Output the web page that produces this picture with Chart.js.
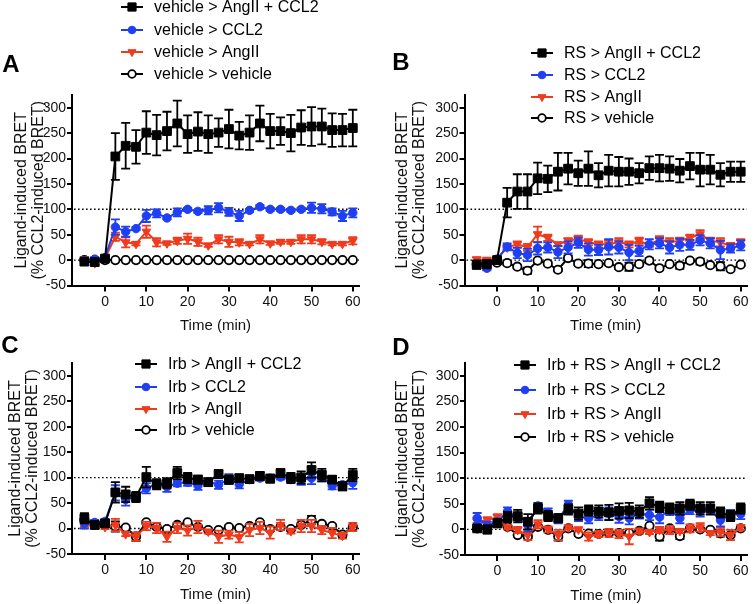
<!DOCTYPE html>
<html>
<head>
<meta charset="utf-8">
<script src="https://cdn.jsdelivr.net/npm/chart.js@4"></script>
<style>
body { margin: 0; background: #fff; }
#wrap { position: relative; width: 754px; height: 604px; }
canvas { position: absolute; left: 0; top: 0; }
</style>
</head>
<body>
<div id="wrap">
<canvas id="cA" width="754" height="604"></canvas>
<canvas id="cB" width="754" height="604"></canvas>
<canvas id="cC" width="754" height="604"></canvas>
<canvas id="cD" width="754" height="604"></canvas>
</div>
<script>
// time points (min)
var times = [-5, -2.5, 0, 2.5, 5, 7.5, 10, 12.5, 15, 17.5, 20, 22.5, 25, 27.5, 30, 32.5, 35, 37.5, 40, 42.5, 45, 47.5, 50, 52.5, 55, 57.5, 60];
var xTicks = [0, 10, 20, 30, 40, 50, 60];
var yTicks = [-50, 0, 50, 100, 150, 200, 250, 300];

// panel A: vehicle pre-treatment
var legendA = ['vehicle > AngII + CCL2', 'vehicle > CCL2', 'vehicle > AngII', 'vehicle > vehicle'];
var aBlack = [-3, -4, 3, 204, 225, 223, 251, 246, 254, 269, 248, 253, 248, 251, 258, 245, 251, 269, 254, 254, 250, 261, 263, 263, 256, 256, 260];
var aBlackErr = [4, 5, 3, 46, 45, 33, 42, 40, 38, 45, 37, 38, 37, 28, 38, 27, 34, 35, 34, 27, 36, 34, 38, 35, 33, 32, 36];
var aBlue = [-1, 2, 5, 65, 56, 62, 87, 92, 83, 94, 100, 96, 98, 103, 95, 87, 98, 105, 100, 100, 98, 100, 103, 101, 95, 87, 93];
var aBlueErr = [3, 4, 3, 15, 10, 3, 12, 8, 3, 8, 3, 3, 8, 9, 8, 10, 3, 3, 3, 3, 3, 3, 10, 9, 7, 10, 9];
var aRed = [2, -6, 4, 46, 35, 32, 56, 35, 33, 38, 42, 36, 29, 41, 36, 35, 32, 41, 33, 36, 36, 41, 41, 36, 32, 32, 38];
var aRedErr = [4, 4, 3, 8, 10, 3, 12, 8, 3, 6, 10, 8, 3, 8, 10, 6, 3, 8, 3, 4, 4, 8, 8, 5, 3, 3, 7];
var aOpen = [0, 0, 0, 0, 0, 0, 0, 0, 0, 0, 0, 0, 0, 0, 0, 0, 0, 0, 0, 0, 0, 0, 0, 0, 0, 0, 0];
var aOpenErr = [0, 0, 0, 0, 0, 0, 0, 0, 0, 0, 0, 0, 0, 0, 0, 0, 0, 0, 0, 0, 0, 0, 0, 0, 0, 0, 0];

// panel B: RS pre-treatment
var legendB = ['RS > AngII + CCL2', 'RS > CCL2', 'RS > AngII', 'RS > vehicle'];
var bBlack = [-9, -8, 0, 113, 135, 135, 161, 160, 174, 180, 171, 180, 167, 176, 174, 174, 171, 181, 181, 180, 176, 185, 178, 178, 168, 174, 174];
var bBlackErr = [8, 8, 3, 29, 34, 34, 31, 26, 37, 31, 25, 34, 24, 31, 29, 26, 20, 23, 26, 24, 23, 26, 33, 29, 23, 20, 20];
var bBlue = [-8, -16, 2, 26, 14, 10, 23, 25, 16, 25, 34, 21, 20, 26, 25, 15, 18, 31, 33, 25, 30, 30, 39, 33, 20, 23, 29];
var bBlueErr = [4, 4, 3, 7, 10, 12, 12, 10, 12, 12, 10, 12, 10, 15, 12, 15, 10, 10, 10, 12, 12, 10, 10, 10, 18, 8, 10];
var bRed = [1, 0, 2, 25, 31, 25, 51, 44, 31, 38, 42, 35, 31, 31, 35, 31, 38, 30, 41, 35, 38, 44, 51, 38, 35, 28, 35];
var bRedErr = [5, 5, 3, 4, 6, 7, 15, 6, 4, 5, 6, 6, 6, 8, 8, 6, 6, 4, 6, 8, 6, 6, 8, 6, 8, 6, 6];
var bOpen = [-8, -5, -5, -6, -13, -21, -1, -7, -19, 4, -7, -7, -8, -6, -14, -13, -8, -1, -16, -8, -11, -1, -3, -10, -12, -18, -9];
var bOpenErr = [3, 3, 3, 3, 3, 6, 3, 3, 3, 5, 3, 7, 3, 3, 3, 8, 3, 5, 3, 3, 6, 3, 6, 3, 8, 3, 3];

// panel C: Irb pre-treatment
var legendC = ['Irb > AngII + CCL2', 'Irb > CCL2', 'Irb > AngII', 'Irb > vehicle'];
var cBlack = [20, 7, 10, 71, 67, 62, 101, 87, 89, 109, 99, 96, 91, 107, 96, 99, 97, 103, 98, 109, 99, 100, 115, 105, 96, 83, 105];
var cBlackErr = [10, 4, 5, 20, 15, 10, 20, 10, 10, 12, 10, 8, 7, 8, 8, 7, 7, 8, 8, 7, 10, 12, 15, 12, 7, 8, 12];
var cBlue = [10, 12, 14, 70, 57, 62, 79, 88, 82, 89, 91, 84, 92, 86, 97, 87, 96, 99, 99, 101, 96, 96, 99, 102, 84, 86, 90];
var cBlueErr = [10, 5, 5, 15, 12, 8, 10, 6, 10, 6, 7, 8, 5, 8, 10, 8, 5, 5, 5, 5, 5, 10, 12, 10, 7, 5, 12];
var cRed = [8, 7, 3, 7, -11, -16, 5, 1, -16, 1, -4, 3, -6, -16, -12, -17, -3, 1, -8, 7, -5, 5, 5, -3, -9, -14, 3];
var cRedErr = [5, 4, 4, 12, 4, 8, 8, 10, 10, 10, 10, 12, 4, 12, 8, 10, 12, 12, 12, 10, 5, 12, 12, 8, 10, 6, 8];
var cOpen = [17, 7, 7, 4, 2, -16, 12, 3, -1, 7, 12, 3, -3, -3, 3, 1, 5, 12, -1, 3, -1, 7, 17, 9, 5, -12, 3];
var cOpenErr = [3, 3, 3, 10, 3, 8, 3, 3, 3, 3, 3, 3, 3, 3, 3, 3, 3, 3, 3, 3, 3, 3, 8, 3, 3, 6, 3];

// panel D: Irb + RS pre-treatment
var legendD = ['Irb + RS > AngII + CCL2', 'Irb + RS > CCL2', 'Irb + RS > AngII', 'Irb + RS > vehicle'];
var dBlack = [2, 0, 12, 24, 26, 15, 41, 26, 22, 39, 31, 37, 35, 33, 36, 37, 35, 51, 44, 41, 41, 48, 41, 41, 33, 26, 41];
var dBlackErr = [5, 8, 8, 10, 12, 15, 10, 10, 8, 10, 12, 10, 12, 15, 15, 15, 12, 12, 10, 10, 12, 10, 12, 12, 10, 10, 10];
var dBlue = [22, 7, 15, 35, 22, 8, 46, 33, 20, 48, 24, 22, 28, 31, 25, 22, 31, 28, 24, 38, 22, 38, 35, 38, 18, 30, 30];
var dBlueErr = [10, 8, 4, 8, 4, 12, 6, 8, 8, 8, 8, 10, 10, 12, 12, 12, 10, 10, 12, 10, 10, 8, 10, 8, 12, 8, 10];
var dRed = [15, 18, 24, 4, -1, -11, 10, 0, -11, 4, 0, -14, -9, -7, -9, -14, -3, -5, -1, -1, -3, 2, 4, -7, -5, -11, 4];
var dRedErr = [8, 6, 6, 4, 6, 10, 8, 6, 10, 4, 4, 8, 6, 8, 8, 15, 5, 4, 6, 8, 4, 8, 8, 4, 8, 10, 5];
var dOpen = [2, 4, 12, 5, -11, -14, 5, -1, -14, 2, -9, -8, -9, -7, -7, -7, -3, 7, -14, 2, -13, 2, 0, -1, -8, -11, 2];
var dOpenErr = [3, 3, 3, 3, 3, 3, 3, 3, 8, 3, 3, 3, 3, 3, 3, 3, 3, 3, 8, 3, 6, 3, 3, 3, 6, 3, 3];

var colors = ['#000000', '#1f3ff2', '#f03a1c', '#000000'];
var fills = ['#000000', '#1f3ff2', '#f03a1c', '#ffffff'];
var styles = ['rect', 'circle', 'triangle', 'circle'];
var radii = [6.2, 4.2, 5, 4.2];
var rots = [0, 0, 180, 0];
var borders = [1, 1, 1, 1.8];
var FONT = '"Liberation Sans", Arial, Helvetica, sans-serif';

function pts(vals) {
    return vals.map(function(v, i) { return {x: times[i], y: v}; });
}

var errorBars = {
    id: 'errorBars',
    beforeDatasetDraw: function(chart, args) {
        var ds = chart.data.datasets[args.index];
        if (!ds.errors) return;
        var y = chart.scales.y, ctx = chart.ctx;
        ctx.save();
        ctx.strokeStyle = ds.borderColor;
        ctx.lineWidth = 1.8;
        args.meta.data.forEach(function(pt, i) {
            var e = ds.errors[i];
            if (!e) return;
            var v = ds.data[i].y;
            var t = y.getPixelForValue(v + e), b = y.getPixelForValue(v - e);
            ctx.beginPath();
            ctx.moveTo(pt.x, t); ctx.lineTo(pt.x, b);
            ctx.moveTo(pt.x - 4.5, t); ctx.lineTo(pt.x + 4.5, t);
            ctx.moveTo(pt.x - 4.5, b); ctx.lineTo(pt.x + 4.5, b);
            ctx.stroke();
        });
        ctx.restore();
    }
};

var refLines = {
    id: 'refLines',
    beforeDatasetsDraw: function(chart) {
        var a = chart.chartArea, y = chart.scales.y, ctx = chart.ctx;
        ctx.save();
        ctx.strokeStyle = '#000';
        ctx.lineWidth = 1.4;
        ctx.setLineDash([1.6, 2.4]);
        [100, 0].forEach(function(v) {
            var py = y.getPixelForValue(v);
            ctx.beginPath();
            ctx.moveTo(a.left + 2, py);
            ctx.lineTo(a.right, py);
            ctx.stroke();
        });
        ctx.restore();
    }
};

var decor = {
    id: 'decor',
    afterDraw: function(chart, args, opts) {
        var ctx = chart.ctx;
        ctx.save();
        ctx.fillStyle = '#000';
        ctx.font = 'bold 24px ' + FONT;
        ctx.textAlign = 'center';
        ctx.textBaseline = 'middle';
        ctx.fillText(opts.letter, opts.letterX, opts.letterY);
        ctx.font = '16px ' + FONT;
        ctx.textAlign = 'left';
        opts.labels.forEach(function(lab, k) {
            var ry = opts.rows[k];
            ctx.strokeStyle = colors[k];
            ctx.lineWidth = 2;
            ctx.setLineDash([]);
            ctx.beginPath();
            ctx.moveTo(opts.x0, ry);
            ctx.lineTo(opts.x0 + 22, ry);
            ctx.stroke();
            ctx.fillStyle = fills[k];
            ctx.lineWidth = borders[k];
            Chart.helpers.drawPoint(ctx, {pointStyle: styles[k], radius: radii[k] - 0.4, rotation: rots[k], borderWidth: borders[k]}, opts.x0 + 11, ry);
            ctx.fillStyle = '#000';
            ctx.fillText(lab, opts.x0 + 33, ry + 1);
        });
        ctx.restore();
    }
};

function makeChart(id, box, series, errs, labels, deco) {
    var sets = [0, 1, 2, 3].map(function(k) {
        return {
            data: pts(series[k]),
            errors: errs[k],
            borderColor: colors[k],
            backgroundColor: fills[k],
            pointBackgroundColor: fills[k],
            pointBorderColor: colors[k],
            pointStyle: styles[k],
            pointRadius: radii[k],
            pointRotation: rots[k],
            pointBorderWidth: borders[k],
            borderWidth: 2,
            tension: 0
        };
    });
    deco.labels = labels;
    return new Chart(document.getElementById(id), {
        type: 'line',
        data: {datasets: sets},
        plugins: [refLines, errorBars, decor],
        options: {
            responsive: false,
            animation: false,
            events: [],
            layout: {padding: {left: box.padLeft, top: box.top, right: 754 - box.right, bottom: 604 - box.bottom - 50}},
            plugins: {legend: {display: false}, tooltip: {enabled: false}, decor: deco},
            scales: {
                x: {
                    type: 'linear', min: -8, max: 61.5,
                    afterFit: function(s) { s.height = 50; },
                    afterBuildTicks: function(s) { s.ticks = xTicks.map(function(v) { return {value: v}; }); },
                    grid: {drawOnChartArea: false, drawTicks: true, tickLength: 6, color: '#000', lineWidth: 2},
                    border: {display: true, color: '#000', width: 2},
                    ticks: {color: '#111', font: {family: FONT, size: 14}, padding: 2, maxRotation: 0, autoSkip: false},
                    title: {display: true, text: 'Time (min)', color: '#111', font: {family: FONT, size: 15}, padding: {top: 0, bottom: 0.5}}
                },
                y: {
                    min: -50, max: 325,
                    afterFit: function(s) { s.width = box.left - box.padLeft; },
                    afterBuildTicks: function(s) { s.ticks = yTicks.map(function(v) { return {value: v}; }); },
                    grid: {drawOnChartArea: false, drawTicks: true, tickLength: 5, color: '#000', lineWidth: 2},
                    border: {display: true, color: '#000', width: 2},
                    ticks: {color: '#111', font: {family: FONT, size: 14}, padding: 1},
                    title: {display: true, text: ['Ligand-induced BRET', '(% CCL2-induced BRET)'], color: '#111', font: {family: FONT, size: 16, lineHeight: 1.0625}, padding: {top: box.titlePad, bottom: 0}}
                }
            }
        }
    });
}

makeChart('cA', {padLeft: 0, left: 72, right: 359, top: 95, bottom: 285.5, titlePad: 13.5},
    [aBlack, aBlue, aRed, aOpen], [aBlackErr, aBlueErr, aRedErr, aOpenErr], legendA,
    {letter: 'A', letterX: 11, letterY: 65, x0: 121, rows: [7, 30, 52, 74]});
makeChart('cB', {padLeft: 382, left: 464.5, right: 750, top: 95, bottom: 285.5, titlePad: 12.5},
    [bBlack, bBlue, bRed, bOpen], [bBlackErr, bBlueErr, bRedErr, bOpenErr], legendB,
    {letter: 'B', letterX: 401, letterY: 63, x0: 531, rows: [53, 75, 97, 118]});
makeChart('cC', {padLeft: 0, left: 72, right: 359, top: 363, bottom: 554, titlePad: 7.5},
    [cBlack, cBlue, cRed, cOpen], [cBlackErr, cBlueErr, cRedErr, cOpenErr], legendC,
    {letter: 'C', letterX: 10, letterY: 346, x0: 135, rows: [364, 387, 409, 430]});
makeChart('cD', {padLeft: 382, left: 465, right: 750, top: 363, bottom: 555, titlePad: 12.5},
    [dBlack, dBlue, dRed, dOpen], [dBlackErr, dBlueErr, dRedErr, dOpenErr], legendD,
    {letter: 'D', letterX: 401, letterY: 348, x0: 514, rows: [365, 390, 414, 437]});
</script>
</body>
</html>
